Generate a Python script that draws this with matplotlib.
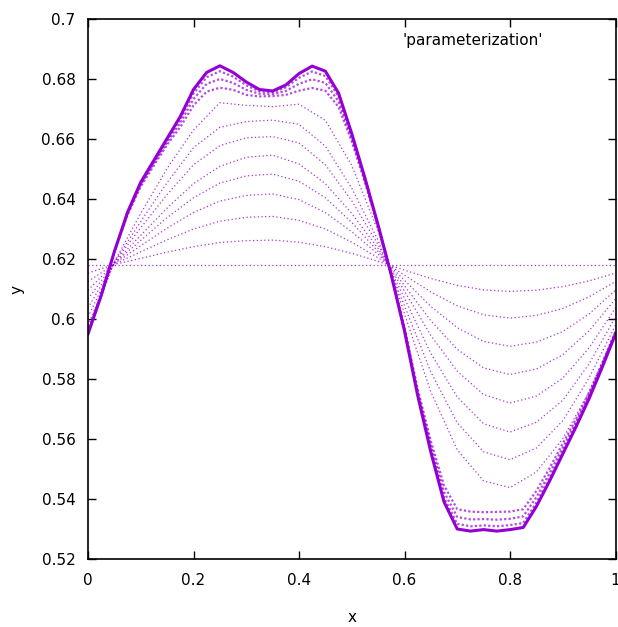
import matplotlib
matplotlib.use('Agg')
import matplotlib.pyplot as plt

# coarse grid for the early (smooth) iterations
x_coarse = [0.0, 0.05, 0.1, 0.15, 0.2, 0.25, 0.3, 0.35, 0.4, 0.45, 0.5,
            0.55, 0.6, 0.65, 0.7, 0.75, 0.8, 0.85, 0.9, 0.95, 1.0]
# fine grid for the late iterations (sharper features)
x_fine = [0.0, 0.025, 0.05, 0.075, 0.1, 0.125, 0.15, 0.175, 0.2, 0.225,
          0.25, 0.275, 0.3, 0.325, 0.35, 0.375, 0.4, 0.425, 0.45, 0.475,
          0.5, 0.525, 0.55, 0.575, 0.6, 0.625, 0.65, 0.675, 0.7, 0.725,
          0.75, 0.775, 0.8, 0.825, 0.85, 0.875, 0.9, 0.925, 0.95, 0.975, 1.0]

flat = [0.618] * 21

it1 = [0.6153, 0.6182, 0.6202, 0.6223, 0.6241, 0.6255, 0.6261, 0.6263, 0.6256, 0.6241, 0.6219,
       0.6192, 0.6163, 0.6135, 0.6112, 0.6097, 0.6092, 0.6096, 0.6108, 0.6127, 0.6153]
it2 = [0.6125, 0.6183, 0.6224, 0.6264, 0.6300, 0.6326, 0.6339, 0.6342, 0.6329, 0.6300, 0.6256,
       0.6204, 0.6146, 0.6090, 0.6044, 0.6014, 0.6003, 0.6012, 0.6035, 0.6074, 0.6125]
it3 = [0.6096, 0.6185, 0.6244, 0.6303, 0.6355, 0.6393, 0.6412, 0.6417, 0.6398, 0.6355, 0.6291,
       0.6216, 0.6129, 0.6042, 0.5971, 0.5925, 0.5909, 0.5923, 0.5958, 0.6017, 0.6096]
it4 = [0.6067, 0.6186, 0.6262, 0.6338, 0.6404, 0.6453, 0.6477, 0.6483, 0.6459, 0.6404, 0.6322,
       0.6225, 0.6111, 0.5994, 0.5899, 0.5837, 0.5815, 0.5833, 0.5881, 0.5961, 0.6067]
it5 = [0.6037, 0.6187, 0.6279, 0.6370, 0.6451, 0.6509, 0.6539, 0.6546, 0.6517, 0.6451, 0.6352,
       0.6235, 0.6093, 0.5945, 0.5826, 0.5748, 0.5720, 0.5743, 0.5803, 0.5904, 0.6037]
it6 = [0.6007, 0.6189, 0.6304, 0.6415, 0.6514, 0.6578, 0.6604, 0.6608, 0.6587, 0.6514, 0.6394,
       0.6248, 0.6069, 0.5885, 0.5740, 0.5651, 0.5623, 0.5656, 0.5729, 0.5851, 0.6007]
it7 = [0.5979, 0.6190, 0.6325, 0.6455, 0.6571, 0.6639, 0.6658, 0.6663, 0.6649, 0.6576, 0.6436,
       0.6262, 0.6044, 0.5823, 0.5654, 0.5557, 0.5531, 0.5570, 0.5661, 0.5804, 0.5979]
it8 = [0.5957, 0.6191, 0.6352, 0.6502, 0.6630, 0.6721, 0.6712, 0.6708, 0.6716, 0.6662, 0.6512,
       0.6293, 0.6017, 0.5757, 0.5564, 0.5460, 0.5438, 0.5490, 0.5601, 0.5757, 0.5957]
early = [it1, it2, it3, it4, it5, it6, it7, it8]

band1 = [0.5959, 0.6082, 0.6223, 0.6347, 0.6442, 0.6512, 0.6581, 0.6640, 0.6712, 0.6758,
         0.6771, 0.6764, 0.6747, 0.6742, 0.6743, 0.6747, 0.6761, 0.6770, 0.6761, 0.6707,
         0.6592, 0.6456, 0.6306, 0.6148, 0.5971, 0.5767, 0.5593, 0.5445, 0.5366, 0.5358,
         0.5356, 0.5357, 0.5358, 0.5366, 0.5427, 0.5503, 0.5585, 0.5667, 0.5755, 0.5854, 0.5959]
band2 = [0.5955, 0.6080, 0.6224, 0.6351, 0.6448, 0.6519, 0.6589, 0.6654, 0.6733, 0.6784,
         0.6800, 0.6787, 0.6764, 0.6751, 0.6750, 0.6760, 0.6784, 0.6799, 0.6787, 0.6725,
         0.6602, 0.6462, 0.6309, 0.6147, 0.5967, 0.5758, 0.5578, 0.5423, 0.5340, 0.5332,
         0.5333, 0.5331, 0.5334, 0.5342, 0.5406, 0.5486, 0.5571, 0.5656, 0.5747, 0.5848, 0.5955]
band3 = [0.5952, 0.6079, 0.6225, 0.6354, 0.6452, 0.6525, 0.6597, 0.6666, 0.6752, 0.6806,
         0.6826, 0.6808, 0.6779, 0.6759, 0.6756, 0.6772, 0.6804, 0.6825, 0.6810, 0.6742,
         0.6612, 0.6467, 0.6311, 0.6146, 0.5963, 0.5751, 0.5565, 0.5404, 0.5317, 0.5309,
         0.5312, 0.5309, 0.5313, 0.5320, 0.5388, 0.5471, 0.5559, 0.5647, 0.5740, 0.5843, 0.5952]
final = [0.5950, 0.6078, 0.6225, 0.6356, 0.6456, 0.6529, 0.6602, 0.6675, 0.6765, 0.6822,
         0.6844, 0.6822, 0.6790, 0.6765, 0.6760, 0.6780, 0.6818, 0.6843, 0.6826, 0.6753,
         0.6618, 0.6470, 0.6313, 0.6146, 0.5960, 0.5745, 0.5556, 0.5390, 0.5300, 0.5293,
         0.5298, 0.5293, 0.5298, 0.5305, 0.5375, 0.5460, 0.5550, 0.5640, 0.5735, 0.5840, 0.5950]
late = [band1, band2, band3]

xticks = [0.0, 0.2, 0.4, 0.6, 0.8, 1.0]
xtick_labels = ['0', '0.2', '0.4', '0.6', '0.8', '1']
yticks = [0.52, 0.54, 0.56, 0.58, 0.6, 0.62, 0.64, 0.66, 0.68, 0.7]
ytick_labels = ['0.52', '0.54', '0.56', '0.58', '0.6', '0.62', '0.64', '0.66', '0.68', '0.7']

color = '#9400d3'
fs = 11

fig = plt.figure(figsize=(6.18, 6.27), dpi=100)
ax = fig.add_axes([88 / 618, 68 / 627, 527.5 / 618, 540 / 627])

ax.plot(x_coarse, flat, color=color, lw=0.9, ls=(0, (1, 2)), alpha=0.8)
for ys in early:
    ax.plot(x_coarse, ys, color=color, lw=0.9, ls=(0, (1, 2)), alpha=0.8)
for ys in late:
    ax.plot(x_fine, ys, color=color, lw=1.6, ls=(0, (1, 1)), alpha=0.7)
ax.plot(x_fine, final, color=color, lw=2.2, solid_joinstyle='round')

ax.set_xlim(0, 1)
ax.set_ylim(0.52, 0.7)
ax.set_xticks(xticks)
ax.set_xticklabels(xtick_labels)
ax.set_yticks(yticks)
ax.set_yticklabels(ytick_labels)
ax.tick_params(direction='in', length=6, width=1, top=True, right=True,
               labelsize=fs)
ax.tick_params(axis='x', pad=10)
ax.tick_params(axis='y', pad=9)
for sp in ax.spines.values():
    sp.set_linewidth(1.2)

ax.text((543 - 88) / 527.5, (559 - 41) / 540, "'parameterization'",
        transform=ax.transAxes, ha='right', va='center', fontsize=fs)

fig.text(352 / 618, 1 - 618 / 627, 'x', ha='center', va='center', fontsize=fs)
fig.text(17 / 618, 1 - 289 / 627, 'y', ha='center', va='center', fontsize=fs,
         rotation=90)

fig.savefig('out.png', dpi=100)
